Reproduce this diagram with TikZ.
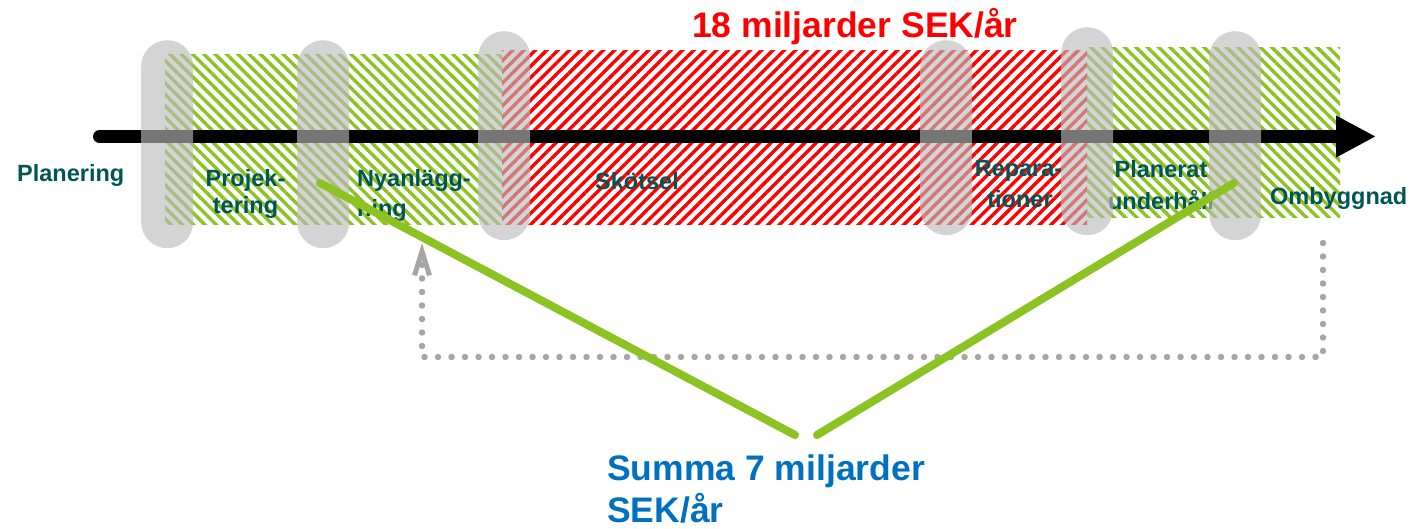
\documentclass[tikz,border=0pt]{standalone}
\usepackage{fontspec}
\setmainfont{Liberation Sans}
\usetikzlibrary{patterns.meta,arrows.meta}
\definecolor{hgreen}{RGB}{140,194,34}
\definecolor{hred}{RGB}{255,0,0}
\definecolor{labteal}{RGB}{0,85,85}
\definecolor{sumblue}{RGB}{0,112,192}
\definecolor{capgray}{RGB}{187,187,187}
\definecolor{dotgray}{RGB}{166,166,166}
\begin{document}
\begin{tikzpicture}[x=1pt,y=-1pt,
  greenhatch/.style={pattern={Lines[angle=-45,distance=8pt,line width=3.4pt]},pattern color=hgreen},
  redhatch/.style={pattern={Lines[angle=45,distance=8pt,line width=3.4pt]},pattern color=hred},
  capsule/.style={fill=capgray,fill opacity=0.635,rounded corners=26pt,minimum width=52pt,inner sep=0pt,anchor=north west},
  lbl/.style={font=\fontsize{23.5}{28}\selectfont\bfseries,text=labteal,inner sep=0pt},
  big/.style={font=\fontsize{35.5}{42}\selectfont\bfseries,inner sep=0pt},
  axis/.style={line width=13pt,line cap=round,-{Triangle[length=40pt,width=39pt]}},
  sumline/.style={hgreen,line width=8pt,line cap=round},
  loopline/.style={dotgray,line width=6.5pt,line cap=round,dash pattern=on 0pt off 13.5pt,-{Straight Barb[length=24pt,width=15pt,line width=5pt]}}
]
\useasboundingbox (0,0) rectangle (1417,529);
% hatched phases
\path[greenhatch] (165,55) rectangle (502,225);
\path[redhatch] (502,51) rectangle (1087,225);
\path[greenhatch] (1087,48) rectangle (1340,218);
% time axis
\coordinate (axL) at (99.5,136.5);
\coordinate (axR) at (1376,136.5);
\draw[axis] (axL) -- (axR);
% phase labels
\node[lbl,anchor=base west] (plan) at (17,182) {Planering};
\node[lbl,anchor=base] (proj1) at (245.5,186.5) {Projek-};
\node[lbl,anchor=base] (proj2) at (245.5,214) {tering};
\node[lbl,anchor=base west] (nya1) at (357,186.5) {Nyanlägg-};
\node[lbl,anchor=base west] (nya2) at (357,217) {ning};
\node[lbl,anchor=base west] (skot) at (595,190) {Skötsel};
\node[lbl,anchor=base] (rep1) at (1018.5,177) {Repara-};
\node[lbl,anchor=base] (rep2) at (1020,208) {tioner};
\node[lbl,anchor=base] (pu1) at (1161,178) {Planerat};
\node[lbl,anchor=base] (pu2) at (1161,210) {underhåll};
\node[lbl,anchor=base west] (omb) at (1270,205) {Ombyggnad};
% transition capsules
\node[capsule,minimum height=208pt] (c1) at (141,40) {};
\node[capsule,minimum height=208pt] (c2) at (297,40) {};
\node[capsule,minimum height=209pt] (c3) at (478,31) {};
\node[capsule,minimum height=195pt] (c4) at (920,40) {};
\node[capsule,minimum height=208pt] (c5) at (1061,27) {};
\node[capsule,minimum height=209pt] (c6) at (1209,31) {};
% feedback loop
\coordinate (lpS) at (1323,243);
\coordinate (lpE) at (422,243);
\draw[loopline] (lpS) -- ++(0,114) -| (lpE);
% summary lines
\coordinate (gl1s) at (320,183);
\coordinate (gl1e) at (795,435);
\coordinate (gl2s) at (1234,183);
\coordinate (gl2e) at (817,435);
\draw[sumline] (gl1s) -- (gl1e);
\draw[sumline] (gl2s) -- (gl2e);
% headings
\node[big,text=hred,anchor=base] (tot) at (855,38) {18 miljarder SEK/år};
\node[big,text=sumblue,anchor=base west] (sum1) at (607,480) {Summa 7 miljarder};
\node[big,text=sumblue,anchor=base west] (sum2) at (607,522) {SEK/år};
\end{tikzpicture}
\end{document}
